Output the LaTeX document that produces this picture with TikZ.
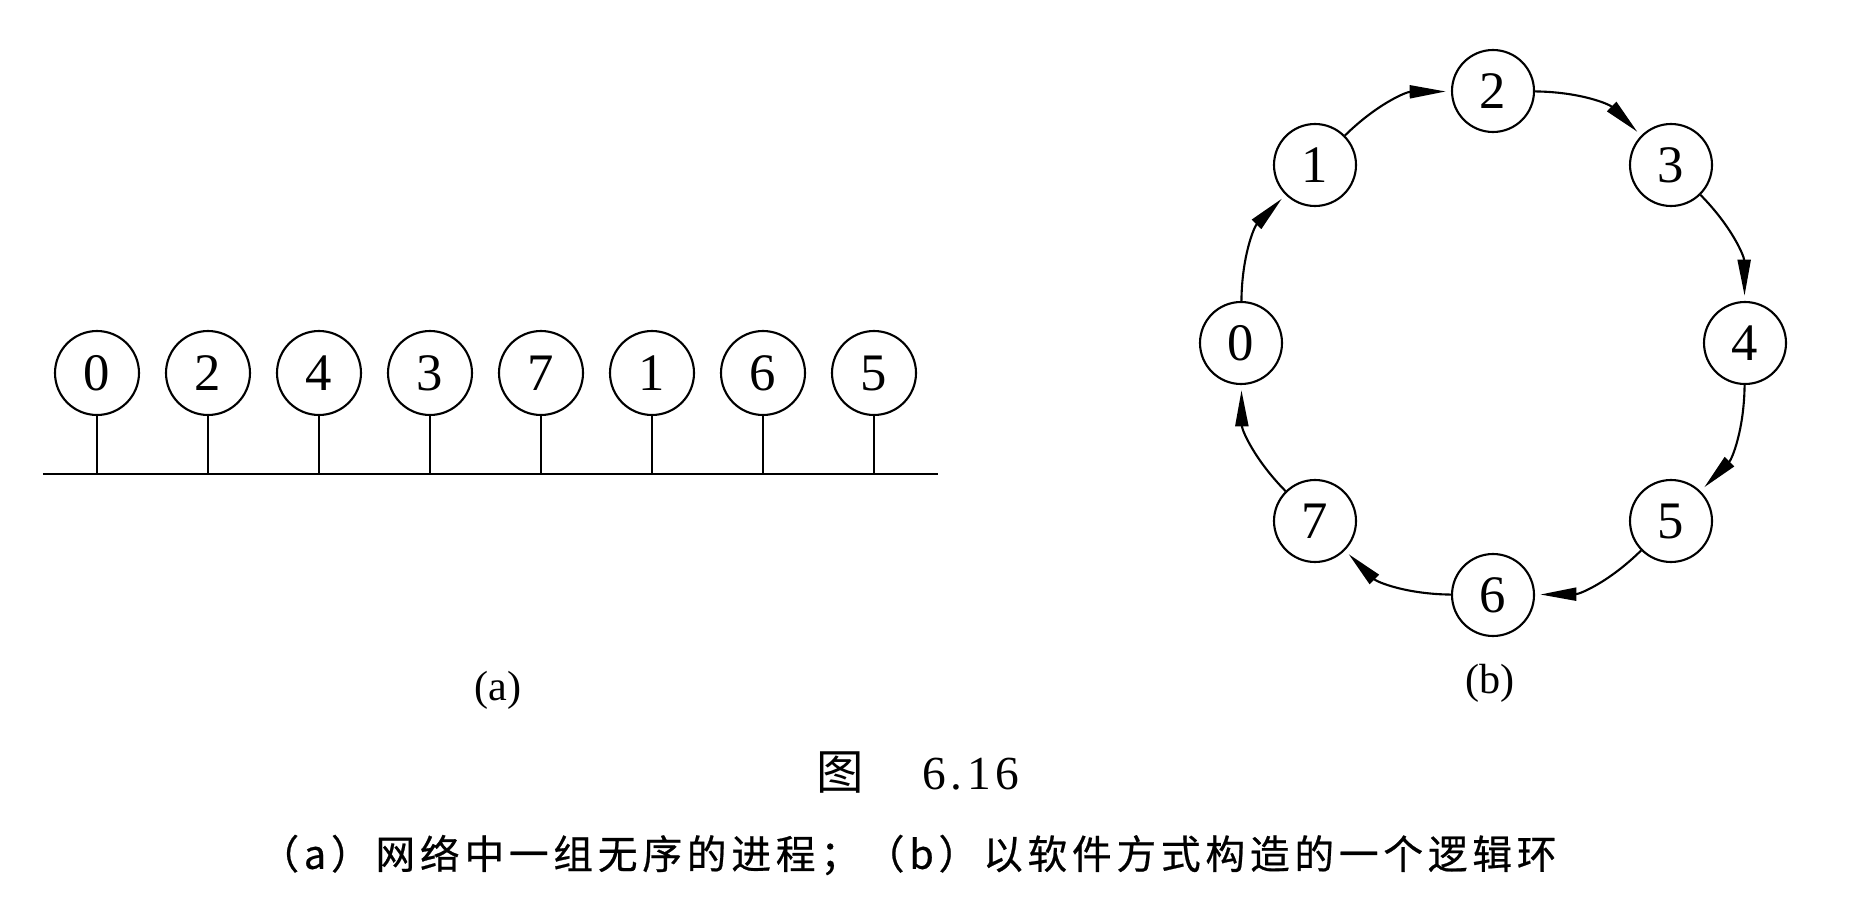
\documentclass[tikz,border=0pt]{standalone}
\usepackage{fontspec}
\setmainfont{Liberation Serif}
\newfontfamily\cjk[LetterSpace=12,FakeBold=0.6]{Noto Sans CJK SC}
\newfontfamily\cjkfig{Noto Sans CJK SC}
\newfontfamily\fignumfont[LetterSpace=10]{Liberation Serif}
\usepackage{tikz}
\usetikzlibrary{arrows.meta,positioning}
\tikzset{
  procnode/.style={
    circle, draw=black, line width=0.6pt,
    minimum size=0.84cm, inner sep=0pt,
    font=\fontsize{15}{15}\selectfont
  },
  ringnode/.style={procnode, minimum size=0.82cm},
  ringarrow/.style={-{Triangle[length=3.6mm,width=1.3mm]}, line width=0.6pt, shorten >=1.5pt},
  stemline/.style={line width=0.6pt}
}

\begin{document}
\begin{tikzpicture}[
  sublabel/.style={font=\fontsize{12}{12}\selectfont}
]
\useasboundingbox (0,0) rectangle (18.62,9);

% (a) processes on the bus
\node[procnode] (p0) at (0.97,5.27) {0};
\node[procnode] (p2) at (2.08,5.27) {2};
\node[procnode] (p4) at (3.19,5.27) {4};
\node[procnode] (p3) at (4.30,5.27) {3};
\node[procnode] (p7) at (5.41,5.27) {7};
\node[procnode] (p1) at (6.52,5.27) {1};
\node[procnode] (p6) at (7.63,5.27) {6};
\node[procnode] (p5) at (8.74,5.27) {5};

\coordinate (busL) at (0.43,4.26);
\coordinate (busR) at (9.38,4.26);
\draw[stemline] (busL) -- (busR);
\draw[stemline] (p0.south) -- (p0.south |- busL);
\draw[stemline] (p2.south) -- (p2.south |- busL);
\draw[stemline] (p4.south) -- (p4.south |- busL);
\draw[stemline] (p3.south) -- (p3.south |- busL);
\draw[stemline] (p7.south) -- (p7.south |- busL);
\draw[stemline] (p1.south) -- (p1.south |- busL);
\draw[stemline] (p6.south) -- (p6.south |- busL);
\draw[stemline] (p5.south) -- (p5.south |- busL);

% (b) logical ring
\node[ringnode] (r0) at (12.41,5.57) {0};
\node[ringnode] (r1) at (13.15,7.35) {1};
\node[ringnode] (r2) at (14.93,8.09) {2};
\node[ringnode] (r3) at (16.71,7.35) {3};
\node[ringnode] (r4) at (17.45,5.57) {4};
\node[ringnode] (r5) at (16.71,3.79) {5};
\node[ringnode] (r6) at (14.93,3.05) {6};
\node[ringnode] (r7) at (13.15,3.79) {7};

% Arrows
\draw[ringarrow] (r0) to[bend left=22] (r1);
\draw[ringarrow] (r1) to[bend left=22] (r2);
\draw[ringarrow] (r2) to[bend left=22] (r3);
\draw[ringarrow] (r3) to[bend left=22] (r4);
\draw[ringarrow] (r4) to[bend left=22] (r5);
\draw[ringarrow] (r5) to[bend left=22] (r6);
\draw[ringarrow] (r6) to[bend left=22] (r7);
\draw[ringarrow] (r7) to[bend left=22] (r0);

% Captions
\node[sublabel] (capa) at (4.98,2.10) {(a)};
\node[sublabel] (capb) at (14.90,2.17) {(b)};
\node[font=\fontsize{13.5}{14}\selectfont] (fignum) at (9.18,1.27) {{\cjkfig 图}\hspace{0.58cm}{\fignumfont 6.16}};
\node[font=\fontsize{11.3}{12}\selectfont\cjk] (figcap) at (9.08,0.45) {（a）网络中一组无序的进程；（b）以软件方式构造的一个逻辑环};
\end{tikzpicture}
\end{document}
